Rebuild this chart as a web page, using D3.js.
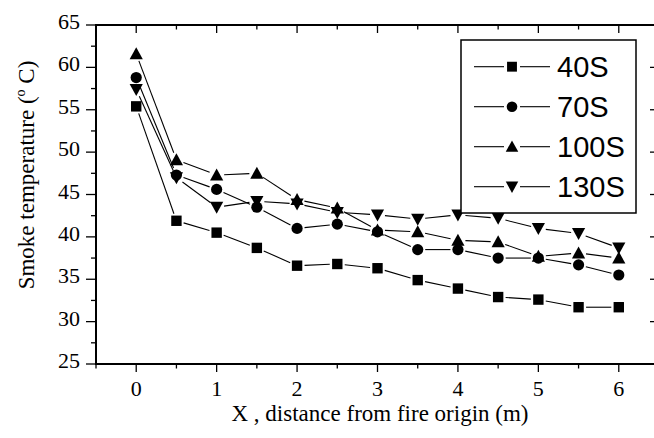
<!DOCTYPE html>
<meta charset="utf-8">
<style>
body { margin: 0; background: #fff; }
.tick-lbl { font-family: "Liberation Serif", "DejaVu Serif", serif; font-size: 22px; fill: #000; }
.title { font-family: "Liberation Serif", "DejaVu Serif", serif; font-size: 23px; fill: #000; }
.legend text { font-family: "Liberation Sans", Arial, sans-serif; font-size: 29px; fill: #000; }
</style>
<body>
<script src="https://d3js.org/d3.v7.min.js"></script>
<script>

// distance from fire origin (m)
var xs = [0, 0.5, 1, 1.5, 2, 2.5, 3, 3.5, 4, 4.5, 5, 5.5, 6];
// smoke temperature readings, one array per time
var s40  = [55.4, 41.9, 40.5, 38.7, 36.6, 36.8, 36.3, 34.9, 33.9, 32.9, 32.6, 31.7, 31.7];
var s70  = [58.8, 47.3, 45.6, 43.5, 41.0, 41.5, 40.6, 38.5, 38.5, 37.5, 37.5, 36.7, 35.5];
var s100 = [61.6, 49.1, 47.3, 47.5, 44.4, 43.4, 40.8, 40.6, 39.6, 39.4, 37.7, 38.1, 37.5];
var s130 = [57.4, 47.0, 43.5, 44.2, 43.9, 42.9, 42.6, 42.1, 42.6, 42.2, 41.0, 40.4, 38.7];
var names = ["40S", "70S", "100S", "130S"];
var shapes = ["square", "circle", "up", "down"];

var xTicks = [0, 1, 2, 3, 4, 5, 6];
var xMinor = [-0.5, 0.5, 1.5, 2.5, 3.5, 4.5, 5.5, 6.5];
var yTicks = [25, 30, 35, 40, 45, 50, 55, 60, 65];
var yMinor = [27.5, 32.5, 37.5, 42.5, 47.5, 52.5, 57.5, 62.5];

var series = [s40, s70, s100, s130];

var W = 654, H = 438;
var pad = {left: 96, right: 659, top: 25, bottom: 364};

var svg = d3.select("body").append("svg")
    .attr("width", W).attr("height", H);

var x = d3.scaleLinear().domain([-0.5, 6.5]).range([pad.left, pad.right]);
var y = d3.scaleLinear().domain([25, 65]).range([pad.bottom, pad.top]);

// marker path centred on 0,0
function marker(kind, k) {
  k = k || 1;
  if (kind == "square") { var a = 5.2 * k; return "M" + -a + "," + -a + "h" + 2 * a + "v" + 2 * a + "h" + -2 * a + "Z"; }
  if (kind == "circle") { var r = 5.6 * k; return "M" + r + ",0A" + r + "," + r + " 0 1,1 " + -r + ",0A" + r + "," + r + " 0 1,1 " + r + ",0Z"; }
  var w = 6.6 * k, h = 6 * k;
  if (kind == "up") return "M0," + -h * 1.1 + "L" + w + "," + h * 0.9 + "L" + -w + "," + h * 0.9 + "Z";
  return "M0," + h * 1.1 + "L" + w + "," + -h * 0.9 + "L" + -w + "," + -h * 0.9 + "Z";
}

// connecting lines, with a small gap around each symbol
var gap = 7.5;
series.forEach(function(vals, si) {
  var g = svg.append("g");
  for (var i = 0; i < xs.length - 1; i++) {
    var x1 = x(xs[i]), y1 = y(vals[i]), x2 = x(xs[i + 1]), y2 = y(vals[i + 1]);
    var L = Math.sqrt((x2 - x1) * (x2 - x1) + (y2 - y1) * (y2 - y1));
    if (L <= 2 * gap) continue;
    var ux = (x2 - x1) / L, uy = (y2 - y1) / L;
    g.append("line")
      .attr("x1", x1 + ux * gap).attr("y1", y1 + uy * gap)
      .attr("x2", x2 - ux * gap).attr("y2", y2 - uy * gap)
      .attr("stroke", "#000").attr("stroke-width", 1.1);
  }
});

series.forEach(function(vals, si) {
  svg.append("g").selectAll("path")
    .data(vals)
    .enter().append("path")
      .attr("d", marker(shapes[si]))
      .attr("transform", function(d, i) { return "translate(" + x(xs[i]) + "," + y(d) + ")"; })
      .attr("fill", "#000");
});

// frame
svg.append("rect")
  .attr("x", pad.left).attr("y", pad.top)
  .attr("width", pad.right - pad.left).attr("height", pad.bottom - pad.top)
  .attr("fill", "none").attr("stroke", "#000").attr("stroke-width", 2);

var ticks = svg.append("g").attr("stroke", "#000").attr("stroke-width", 1.3);
// bottom ticks point out, top ticks point in
xTicks.forEach(function(t) {
  ticks.append("line").attr("x1", x(t)).attr("x2", x(t)).attr("y1", pad.bottom).attr("y2", pad.bottom + 8);
  ticks.append("line").attr("x1", x(t)).attr("x2", x(t)).attr("y1", pad.top).attr("y2", pad.top + 8);
});
xMinor.forEach(function(t) {
  ticks.append("line").attr("x1", x(t)).attr("x2", x(t)).attr("y1", pad.bottom).attr("y2", pad.bottom + 4.5);
  ticks.append("line").attr("x1", x(t)).attr("x2", x(t)).attr("y1", pad.top).attr("y2", pad.top + 4.5);
});
yTicks.forEach(function(t) {
  ticks.append("line").attr("x1", pad.left - 10).attr("x2", pad.left).attr("y1", y(t)).attr("y2", y(t));
  ticks.append("line").attr("x1", pad.right - 9).attr("x2", pad.right).attr("y1", y(t)).attr("y2", y(t));
});
yMinor.forEach(function(t) {
  ticks.append("line").attr("x1", pad.left - 5).attr("x2", pad.left).attr("y1", y(t)).attr("y2", y(t));
  ticks.append("line").attr("x1", pad.right - 5).attr("x2", pad.right).attr("y1", y(t)).attr("y2", y(t));
});

// tick labels
svg.append("g").selectAll("text").data(xTicks)
  .enter().append("text")
    .attr("class", "tick-lbl")
    .attr("x", function(d) { return x(d); })
    .attr("y", 396)
    .attr("text-anchor", "middle")
    .text(function(d) { return d; });

svg.append("g").selectAll("text").data(yTicks)
  .enter().append("text")
    .attr("class", "tick-lbl")
    .attr("x", 80)
    .attr("y", function(d) { return y(d) + 4; })
    .attr("text-anchor", "end")
    .text(function(d) { return d; });

// axis titles
svg.append("text").attr("class", "title")
  .attr("x", 380).attr("y", 421)
  .attr("text-anchor", "middle")
  .text("X , distance from fire origin (m)");

var yt = svg.append("text").attr("class", "title")
  .attr("transform", "translate(34,175) rotate(-90)")
  .attr("text-anchor", "middle");
yt.append("tspan").text("Smoke temperature (");
yt.append("tspan").attr("font-size", "14px").attr("dy", -9).text("o");
yt.append("tspan").attr("dy", 9).text(" C)");

// legend
var lg = svg.append("g").attr("class", "legend");
lg.append("rect")
  .attr("x", 461).attr("y", 40).attr("width", 175).attr("height", 173)
  .attr("fill", "#fff").attr("stroke", "#000").attr("stroke-width", 1.5);

var row = lg.selectAll(".row").data(names)
  .enter().append("g")
    .attr("class", "row")
    .attr("transform", function(d, i) { return "translate(0," + (66.7 + i * 40) + ")"; });

row.append("line").attr("x1", 474).attr("x2", 504).attr("stroke", "#000").attr("stroke-width", 1.1);
row.append("line").attr("x1", 520).attr("x2", 550).attr("stroke", "#000").attr("stroke-width", 1.1);
row.append("path")
  .attr("d", function(d, i) { return marker(shapes[i], 0.95); })
  .attr("transform", "translate(512,0)")
  .attr("fill", "#000");
row.append("text")
  .attr("x", 557).attr("y", 10.5)
  .text(function(d) { return d; });

</script>
